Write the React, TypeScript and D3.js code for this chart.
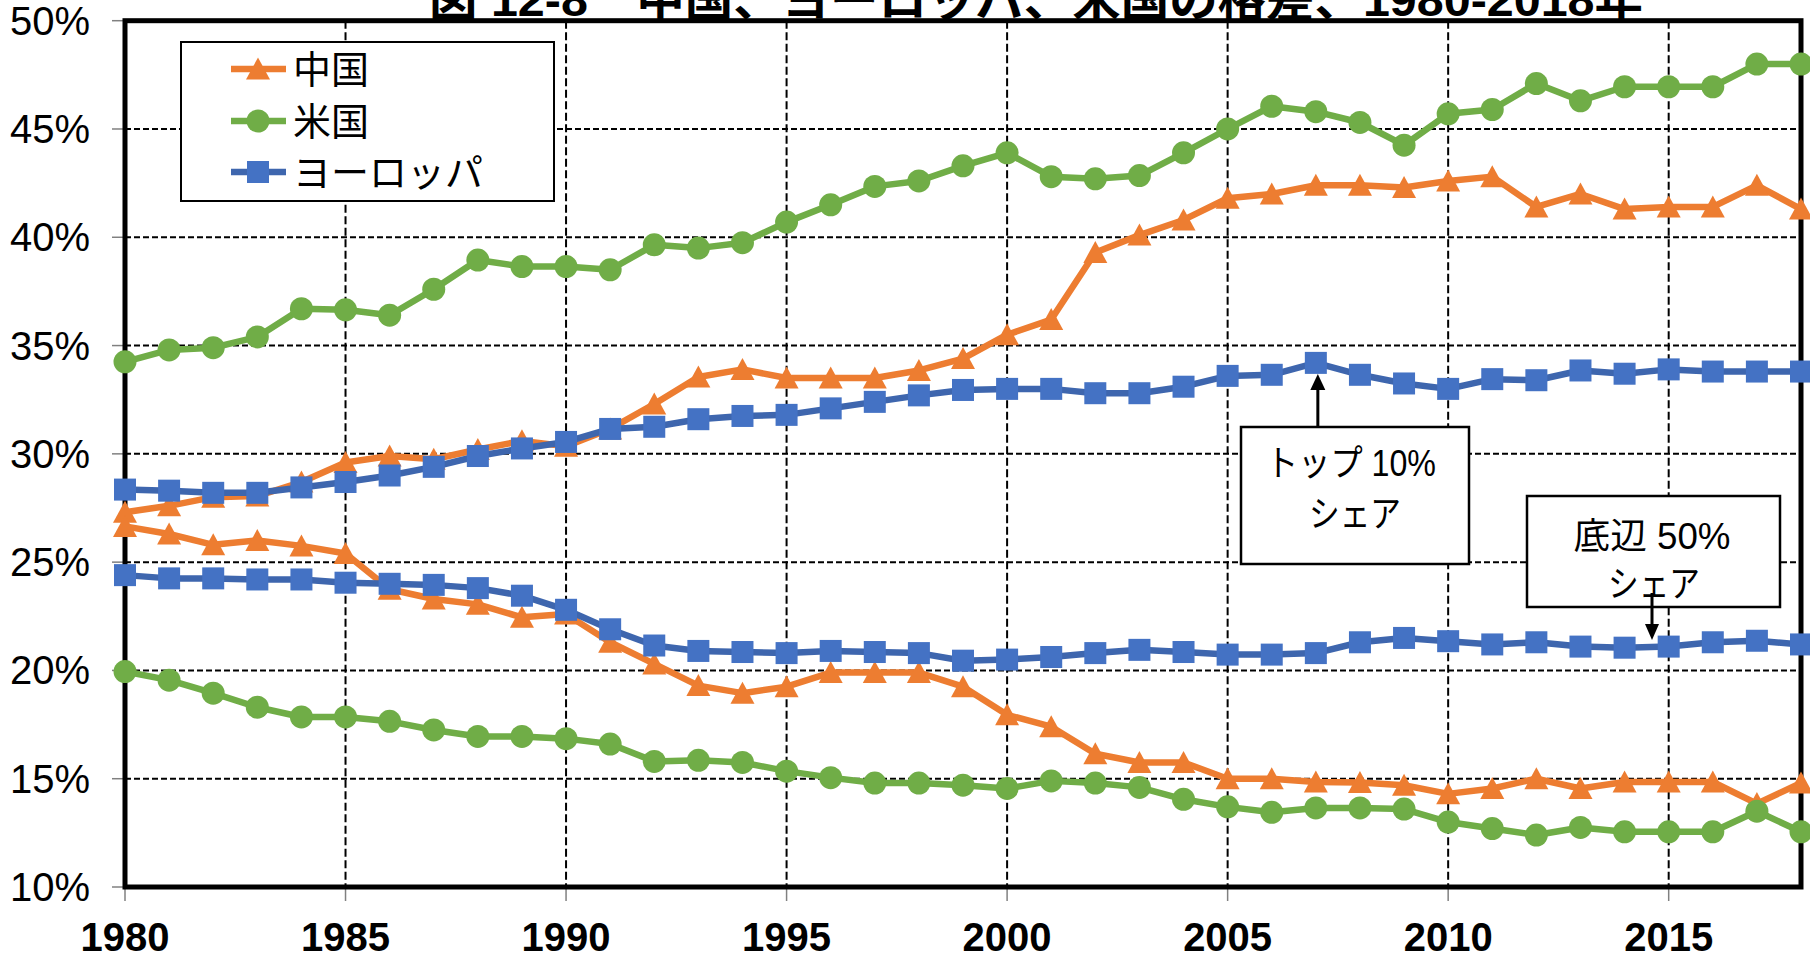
import React from 'react';
import * as d3 from 'd3';

const years = [1980, 1981, 1982, 1983, 1984, 1985, 1986, 1987, 1988, 1989, 1990, 1991, 1992, 1993, 1994, 1995, 1996, 1997, 1998, 1999, 2000, 2001, 2002, 2003, 2004, 2005, 2006, 2007, 2008, 2009, 2010, 2011, 2012, 2013, 2014, 2015, 2016, 2017, 2018];

const chinaTop10 = [27.3, 27.6, 28.0, 28.05, 28.7, 29.6, 29.9, 29.75, 30.2, 30.6, 30.35, 31.15, 32.3, 33.55, 33.9, 33.5, 33.5, 33.5, 33.85, 34.4, 35.5, 36.2, 39.3, 40.1, 40.8, 41.8, 42.0, 42.4, 42.4, 42.3, 42.6, 42.8, 41.4, 42.0, 41.3, 41.4, 41.4, 42.4, 41.3];
const chinaBottom50 = [26.65, 26.3, 25.8, 26.0, 25.75, 25.4, 23.75, 23.3, 23.05, 22.45, 22.6, 21.3, 20.3, 19.3, 18.95, 19.25, 19.9, 19.9, 19.9, 19.25, 17.95, 17.4, 16.15, 15.75, 15.75, 15.0, 15.0, 14.85, 14.82, 14.7, 14.3, 14.55, 15.0, 14.55, 14.85, 14.85, 14.85, 13.85, 14.8];
const usTop10 = [34.25, 34.8, 34.9, 35.4, 36.7, 36.65, 36.4, 37.6, 38.95, 38.65, 38.65, 38.5, 39.65, 39.5, 39.75, 40.7, 41.5, 42.35, 42.6, 43.3, 43.9, 42.8, 42.7, 42.85, 43.9, 45.0, 46.05, 45.8, 45.3, 44.25, 45.7, 45.9, 47.1, 46.3, 46.95, 46.95, 46.95, 48.0, 48.0];
const usBottom50 = [19.95, 19.55, 18.95, 18.3, 17.85, 17.85, 17.65, 17.25, 16.95, 16.95, 16.85, 16.6, 15.8, 15.85, 15.75, 15.35, 15.05, 14.8, 14.8, 14.7, 14.55, 14.9, 14.8, 14.6, 14.05, 13.7, 13.45, 13.65, 13.65, 13.6, 13.0, 12.7, 12.4, 12.75, 12.55, 12.55, 12.55, 13.5, 12.55];
const europeTop10 = [28.35, 28.3, 28.2, 28.2, 28.45, 28.7, 29.0, 29.4, 29.9, 30.25, 30.55, 31.15, 31.25, 31.6, 31.75, 31.8, 32.1, 32.4, 32.7, 32.95, 33.0, 33.0, 32.8, 32.8, 33.1, 33.6, 33.65, 34.2, 33.65, 33.25, 33.0, 33.45, 33.4, 33.85, 33.7, 33.9, 33.8, 33.8, 33.8];
const europeBottom50 = [24.4, 24.25, 24.25, 24.2, 24.2, 24.05, 24.0, 23.95, 23.8, 23.45, 22.8, 21.9, 21.15, 20.9, 20.85, 20.8, 20.9, 20.85, 20.8, 20.45, 20.5, 20.62, 20.8, 20.95, 20.85, 20.73, 20.73, 20.8, 21.3, 21.5, 21.35, 21.2, 21.3, 21.1, 21.05, 21.1, 21.3, 21.37, 21.2];

const yTicks = [10, 15, 20, 25, 30, 35, 40, 45, 50];
const xTicks = [1980, 1985, 1990, 1995, 2000, 2005, 2010, 2015];

const title = '図 12-8　中国、ヨーロッパ、米国の格差、1980-2018年';
const seriesNames = ['中国', '米国', 'ヨーロッパ'];

const LATIN = '"Liberation Sans", Arial, sans-serif';
const JP = '"Liberation Sans", "Noto Sans CJK JP", sans-serif';

type Shape = 'triangle' | 'circle' | 'square';

const seriesDefs: { name: string; top: number[]; bottom: number[]; line: string; marker: string; shape: Shape }[] = [
  { name: seriesNames[0], top: chinaTop10, bottom: chinaBottom50, line: '#ED7D31', marker: '#ED7D31', shape: 'triangle' },
  { name: seriesNames[1], top: usTop10, bottom: usBottom50, line: '#70AD47', marker: '#70AD47', shape: 'circle' },
  { name: seriesNames[2], top: europeTop10, bottom: europeBottom50, line: '#3E66AE', marker: '#4472C4', shape: 'square' },
];

function Marker({ shape, cx, cy, fill }: { shape: Shape; cx: number; cy: number; fill: string }) {
  if (shape === 'circle') return <circle cx={cx} cy={cy} r={11.5} fill={fill} />;
  if (shape === 'square') return <rect x={cx - 11} y={cy - 11} width={22} height={22} fill={fill} />;
  return <path d={`M${cx},${cy - 11.5}L${cx + 12},${cy + 10.5}L${cx - 12},${cy + 10.5}Z`} fill={fill} />;
}

export default function App() {
  const W = 1810;
  const H = 958;
  const x = d3.scaleLinear().domain([1980, 2018]).range([125, 1801]);
  const y = d3.scaleLinear().domain([10, 50]).range([887, 20.7]);
  const line = d3
    .line<number>()
    .x((_, i) => x(years[i]))
    .y((d) => y(d));

  const legendRows = [69, 121, 172];

  const a1x = x(2007) + 2;
  const a1Top = y(europeTop10[27]) + 11;
  const a2x = 1652;

  return (
    <div style={{ position: 'absolute', left: 0, top: 0, width: W, height: H, overflow: 'hidden', background: '#fff' }}>
      <svg width={W} height={H} viewBox={`0 0 ${W} ${H}`} style={{ display: 'block' }}>
        <rect x={0} y={0} width={W} height={H} fill="#fff" />
        {/* title (cut off at the top as in the reference) */}
        <text x={1036} y={16} textAnchor="middle" fontFamily={JP} fontWeight="bold" fontSize={46} textLength={1214} lengthAdjust="spacingAndGlyphs">
          {title}
        </text>

        {/* gridlines */}
        {yTicks.filter((t) => t > 10 && t < 50).map((t) => (
          <line key={'hg' + t} x1={125} x2={1801} y1={y(t)} y2={y(t)} stroke="#000" strokeWidth={2} strokeDasharray="6,3" />
        ))}
        {xTicks.filter((t) => t > 1980).map((t) => (
          <line key={'vg' + t} x1={x(t)} x2={x(t)} y1={20.7} y2={887} stroke="#000" strokeWidth={2} strokeDasharray="8,3.5" />
        ))}

        {/* ticks */}
        {yTicks.map((t) => (
          <line key={'yt' + t} x1={112} x2={125} y1={y(t)} y2={y(t)} stroke="#808080" strokeWidth={1.5} />
        ))}
        {xTicks.map((t) => (
          <line key={'xt' + t} x1={x(t)} x2={x(t)} y1={887} y2={901} stroke="#808080" strokeWidth={1.5} />
        ))}

        {/* plot border */}
        <rect x={125} y={20.7} width={1801 - 125} height={887 - 20.7} fill="none" stroke="#000" strokeWidth={5} />

        {/* tick labels */}
        {yTicks.map((t) => (
          <text key={'yl' + t} x={90} y={y(t) + 14} textAnchor="end" fontFamily={LATIN} fontSize={40}>
            {t}%
          </text>
        ))}
        {xTicks.map((t) => (
          <text key={'xl' + t} x={x(t)} y={951} textAnchor="middle" fontFamily={LATIN} fontWeight="bold" fontSize={40}>
            {t}
          </text>
        ))}

        {/* series */}
        {seriesDefs.map((s) => (
          <g key={s.name}>
            {[s.top, s.bottom].map((vals, k) => (
              <g key={k}>
                <path d={line(vals) || ''} fill="none" stroke={s.line} strokeWidth={6.5} strokeLinejoin="round" />
                {vals.map((v, i) => (
                  <Marker key={i} shape={s.shape} cx={x(years[i])} cy={y(v)} fill={s.marker} />
                ))}
              </g>
            ))}
          </g>
        ))}

        {/* legend */}
        <rect x={181} y={42} width={373} height={159} fill="#fff" stroke="#000" strokeWidth={2} />
        {seriesDefs.map((s, i) => (
          <g key={'lg' + i}>
            <line x1={231} x2={286} y1={legendRows[i]} y2={legendRows[i]} stroke={s.line} strokeWidth={6.5} />
            <Marker shape={s.shape} cx={258} cy={legendRows[i]} fill={s.marker} />
            <text x={293} y={legendRows[i] + 14} fontFamily={JP} fontSize={38}>
              {s.name}
            </text>
          </g>
        ))}

        {/* annotation 1: top 10% */}
        <rect x={1241} y={427} width={228} height={137} fill="#fff" stroke="#000" strokeWidth={2.5} />
        <text x={1351} y={476} textAnchor="middle" fontFamily={JP} fontSize={36} textLength={170} lengthAdjust="spacingAndGlyphs">
          トップ 10%
        </text>
        <text x={1355} y={527} textAnchor="middle" fontFamily={JP} fontSize={36} textLength={92} lengthAdjust="spacingAndGlyphs">
          シェア
        </text>
        <line x1={a1x} x2={a1x} y1={427} y2={a1Top + 14} stroke="#000" strokeWidth={3} />
        <path d={`M${a1x},${a1Top}L${a1x + 7.5},${a1Top + 16}L${a1x - 7.5},${a1Top + 16}Z`} fill="#000" />

        {/* annotation 2: bottom 50% */}
        <rect x={1527} y={496} width={253} height={111} fill="#fff" stroke="#000" strokeWidth={2.5} />
        <text x={1652} y={549} textAnchor="middle" fontFamily={JP} fontSize={36} textLength={157} lengthAdjust="spacingAndGlyphs">
          底辺 50%
        </text>
        <text x={1654} y={597} textAnchor="middle" fontFamily={JP} fontSize={36} textLength={92} lengthAdjust="spacingAndGlyphs">
          シェア
        </text>
        <line x1={a2x} x2={a2x} y1={593} y2={626} stroke="#000" strokeWidth={3} />
        <path d={`M${a2x},${640}L${a2x + 7},${624}L${a2x - 7},${624}Z`} fill="#000" />
      </svg>
    </div>
  );
}
